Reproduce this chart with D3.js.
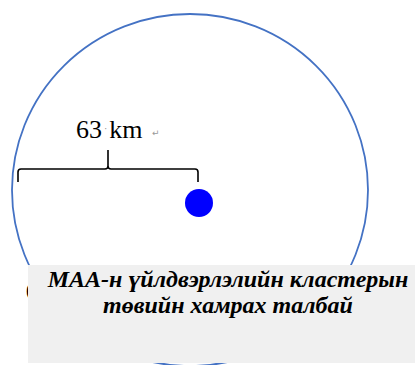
<!DOCTYPE html>
<html><head><meta charset="utf-8">
<script src="https://cdn.jsdelivr.net/npm/d3@7"></script>
<style>html,body{margin:0;padding:0;background:#fff;}svg{display:block;}</style>
</head><body>
<script>
// Data
const radiusKm = [63];
const radiusLabel = ["63", "km"];
const titleLines = ["МАА-н үйлдвэрлэлийн кластерын", "төвийн хамрах талбай"];

const W = 415, H = 365;
const svg = d3.select("body").append("svg").attr("width", W).attr("height", H);

// scale: km from dot centre -> pixels
const x = d3.scaleLinear().domain([-63, 0]).range([18, 198]);

// coverage ellipse
svg.append("ellipse")
  .attr("cx", 190).attr("cy", 190)
  .attr("rx", 178).attr("ry", 176)
  .attr("fill", "none").attr("stroke", "#4472C4").attr("stroke-width", 1.8);

// centre dot
svg.append("circle").attr("cx", 199).attr("cy", 203).attr("r", 14).attr("fill", "#0000FF");

// brace
const x0 = x(-radiusKm[0]), x1 = x(0), xm = (x0 + x1) / 2;
const yb = 169, ye = 182, yt = 150;
const r = 3;
const p = `M${x0},${ye} L${x0},${yb + r} Q${x0},${yb} ${x0 + r},${yb} L${xm - r},${yb} Q${xm},${yb} ${xm},${yb - r} L${xm},${yt}
 M${xm},${yb - r} Q${xm},${yb} ${xm + r},${yb} L${x1 - r},${yb} Q${x1},${yb} ${x1},${yb + r} L${x1},${ye}`;
svg.append("path").attr("d", p).attr("fill", "none").attr("stroke", "#000").attr("stroke-width", 1.6);

// label
const lbl = svg.append("text").attr("x", 76).attr("y", 138)
  .attr("font-family", "Liberation Serif, Times New Roman, serif").attr("font-size", 26).attr("fill", "#000");
lbl.append("tspan").text(radiusLabel[0]);
lbl.append("tspan").attr("font-size", 10).attr("fill", "#888").attr("dx", 2).attr("dy", -6).text("·");
lbl.append("tspan").attr("dx", 2).attr("dy", 6).text(radiusLabel[1]);
svg.append("text").attr("x", 152).attr("y", 136)
  .attr("font-family", "DejaVu Sans, sans-serif").attr("font-size", 9).attr("fill", "#999").text("↵");

// grey text box
svg.append("text").attr("x", 26).attr("y", 296).attr("font-family", "Liberation Serif, serif")
  .attr("font-size", 18).attr("font-weight", "bold").attr("fill", "#000").text("(");
svg.append("rect").attr("x", 28).attr("y", 265).attr("width", W - 28).attr("height", 98).attr("fill", "#F0F0F0");
svg.selectAll("text.title").data(titleLines).join("text")
  .attr("class", "title")
  .attr("x", 228).attr("y", (d, i) => 287 + i * 26)
  .attr("text-anchor", "middle")
  .attr("font-family", "Liberation Serif, Times New Roman, serif")
  .attr("font-size", 24).attr("font-weight", "bold").attr("font-style", "italic")
  .attr("fill", "#000").text(d => d);
</script>
</body></html>
